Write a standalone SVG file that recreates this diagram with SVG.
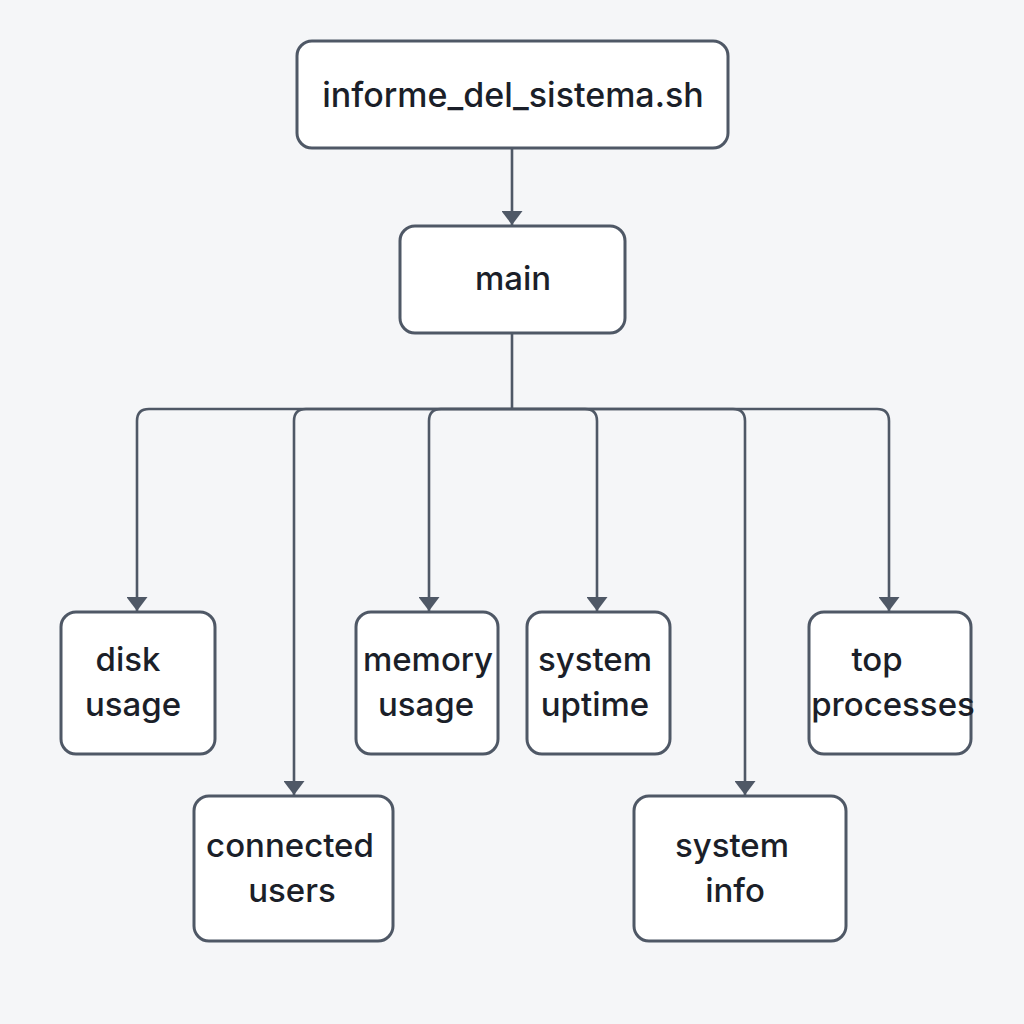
<svg xmlns="http://www.w3.org/2000/svg" width="1024" height="1024" viewBox="0 0 1024 1024">
<style>
.bg{fill:#f5f6f8}
.box{fill:#ffffff;stroke:#4f5866;stroke-width:3}
.lbl{font-family:Inter,"Noto Sans","Liberation Sans",sans-serif;font-size:33px;font-weight:500;fill:#1b1f29;text-anchor:middle}
.big{font-size:34px}
.conn{fill:none;stroke:#4f5866;stroke-width:2.6}
</style>
<defs>
<marker id="arr" markerUnits="userSpaceOnUse" viewBox="0 0 14 21" refX="14" refY="10.5" markerWidth="14" markerHeight="21" orient="auto">
<path d="M0,0 L14,10.5 L0,21 z" fill="#4f5866"/>
</marker>
</defs>
<rect class="bg" x="0" y="0" width="1024" height="1024"/>
<g id="connectors">
<path class="conn" d="M512,148 V225" marker-end="url(#arr)"/>
<path class="conn" d="M512,333 V409"/>
<path class="conn" d="M512,409 H149 Q137,409 137,421 V611" marker-end="url(#arr)"/>
<path class="conn" d="M512,409 H306 Q294,409 294,421 V795" marker-end="url(#arr)"/>
<path class="conn" d="M512,409 H441 Q429,409 429,421 V611" marker-end="url(#arr)"/>
<path class="conn" d="M512,409 H585 Q597,409 597,421 V611" marker-end="url(#arr)"/>
<path class="conn" d="M512,409 H733 Q745,409 745,421 V795" marker-end="url(#arr)"/>
<path class="conn" d="M512,409 H877 Q889,409 889,421 V611" marker-end="url(#arr)"/>
</g>
<g id="node-script">
<rect class="box" x="297" y="41" width="431" height="107" rx="15"/>
<text class="lbl big" x="513" y="107">informe_del_sistema.sh</text>
</g>
<g id="node-main">
<rect class="box" x="400" y="226" width="225" height="107" rx="15"/>
<text class="lbl" x="513" y="290">main</text>
</g>
<g id="node-disk">
<rect class="box" x="61" y="612" width="154" height="142" rx="15"/>
<text class="lbl" x="128" y="671">disk</text>
<text class="lbl" x="133" y="716">usage</text>
</g>
<g id="node-memory">
<rect class="box" x="356" y="612" width="142" height="142" rx="15"/>
<text class="lbl" x="428" y="671">memory</text>
<text class="lbl" x="426" y="716">usage</text>
</g>
<g id="node-uptime">
<rect class="box" x="527" y="612" width="143" height="142" rx="15"/>
<text class="lbl" x="595" y="671">system</text>
<text class="lbl" x="595" y="716">uptime</text>
</g>
<g id="node-top">
<rect class="box" x="809" y="612" width="162" height="142" rx="15"/>
<text class="lbl" x="877" y="671">top</text>
<text class="lbl" x="893" y="716">processes</text>
</g>
<g id="node-users">
<rect class="box" x="194" y="796" width="199" height="145" rx="15"/>
<text class="lbl" x="290" y="857">connected</text>
<text class="lbl" x="292" y="902">users</text>
</g>
<g id="node-sysinfo">
<rect class="box" x="634" y="796" width="212" height="145" rx="15"/>
<text class="lbl" x="732" y="857">system</text>
<text class="lbl" x="735" y="902">info</text>
</g>
</svg>
